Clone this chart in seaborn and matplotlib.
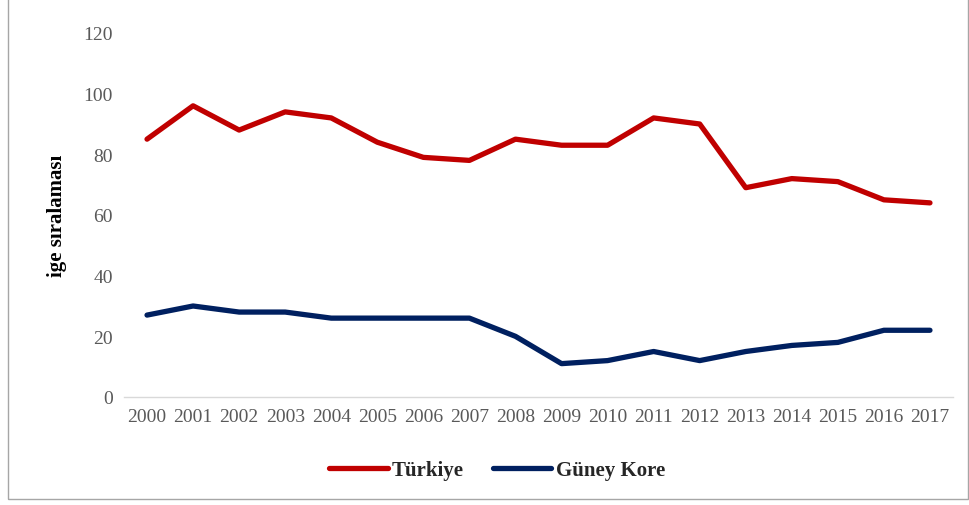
import matplotlib
matplotlib.use("Agg")
import matplotlib.pyplot as plt
import pandas as pd
import seaborn as sns
from matplotlib.patches import Rectangle

years = list(range(2000, 2018))
turkiye = [85, 96, 88, 94, 92, 84, 79, 78, 85, 83, 83, 92, 90, 69, 72, 71, 65, 64]
guney_kore = [27, 30, 28, 28, 26, 26, 26, 26, 20, 11, 12, 15, 12, 15, 17, 18, 22, 22]
series_names = ["Türkiye", "Güney Kore"]
colors = ["#C00000", "#002060"]

df = pd.DataFrame({"Yıl": years, series_names[0]: turkiye, series_names[1]: guney_kore})
long_df = df.melt(id_vars="Yıl", var_name="Ülke", value_name="Sıra")

sns.set_theme(style="white")
plt.rcParams["font.family"] = ["Liberation Serif", "DejaVu Serif"]

fig = plt.figure(figsize=(9.7, 5.06), dpi=100)
ax = fig.add_axes([124 / 970, 1 - 398 / 506, (953 - 124) / 970, (398 - 34) / 506])

sns.lineplot(data=long_df, x="Yıl", y="Sıra", hue="Ülke", palette=colors,
             linewidth=3.8, ax=ax, legend=True, solid_capstyle="round")

ax.set_xlim(1999.5, 2017.5)
ax.set_ylim(0, 120)
ax.set_xticks(years)
ax.set_xticklabels([str(y) for y in years])
ax.set_yticks(range(0, 121, 20))
ax.tick_params(axis="both", length=0, labelsize=14, colors="#595959", pad=8)
for side in ["top", "right", "left"]:
    ax.spines[side].set_visible(False)
ax.spines["bottom"].set_color("#D9D9D9")
ax.spines["bottom"].set_linewidth(1)
ax.set_xlabel("")
ax.set_ylabel("ige sıralaması", fontsize=15, fontweight="bold", color="black", labelpad=12)

handles, labels = ax.get_legend_handles_labels()
ax.legend(handles, labels, loc="center", bbox_to_anchor=(0.45, -0.2), ncol=2, frameon=False,
          prop={"family": "Liberation Serif", "weight": "bold", "size": 15},
          handlelength=2.8, columnspacing=1.4, handletextpad=0.2)

fig.patches.append(Rectangle((8 / 970, 6 / 506), 960 / 970, 510 / 506, transform=fig.transFigure,
                             fill=False, edgecolor="#A6A6A6", linewidth=1))

fig.savefig("out.png", dpi=100)
